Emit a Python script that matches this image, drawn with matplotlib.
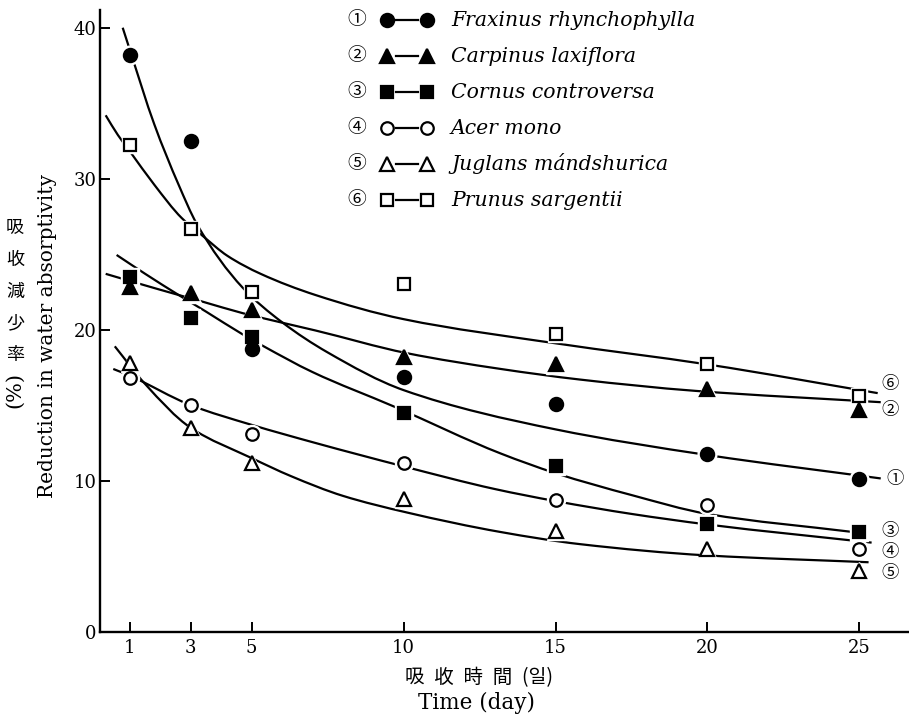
import numpy as np
import matplotlib
matplotlib.use('Agg')
import matplotlib.pyplot as plt
from matplotlib.path import Path
from matplotlib.patches import PathPatch
from matplotlib.lines import Line2D

plt.rcParams['font.family'] = ['DejaVu Serif', 'Noto Sans CJK KR']

# measured points
days = [1, 3, 5, 10, 15, 20, 25]
fraxinus = [38.2, 32.5, 18.7, 16.9, 15.1, 11.8, 10.1]
carpinus = [22.8, 22.4, 21.3, 18.2, 17.7, 16.1, 14.7]
cornus = [23.5, 20.8, 19.5, 14.5, 11.0, 7.1, 6.6]
acer = [16.8, 15.0, 13.1, 11.2, 8.7, 8.4, 5.5]
juglans = [17.8, 13.5, 11.2, 8.8, 6.7, 5.5, 4.0]
prunus = [32.2, 26.7, 22.5, 23.0, 19.7, 17.7, 15.6]

# hand drawn curves
frax_cx = [0.76, 1.0, 1.8, 2.6, 3.2, 4.7, 6.0, 7.5, 10.0, 15.0, 20.0, 25.7]
frax_cy = [40.0, 38.5, 33.6, 29.6, 27.0, 22.8, 20.5, 18.5, 16.0, 13.4, 11.7, 10.15]
carp_cx = [0.2, 1.3, 2.6, 3.4, 4.7, 5.3, 7.1, 10.1, 13.2, 15.8, 19.6, 25.7]
carp_cy = [23.7, 23.05, 22.3, 21.85, 21.1, 20.8, 19.95, 18.45, 17.4, 16.7, 15.95, 15.2]
corn_cx = [0.56, 1.5, 2.6, 3.5, 4.7, 5.4, 7.0, 9.7, 13.2, 15.0, 17.5, 20.0, 24.8]
corn_cy = [24.95, 23.7, 22.3, 21.2, 19.7, 18.9, 17.2, 14.9, 11.8, 10.5, 9.05, 7.8, 6.6]
acer_cx = [0.45, 1.0, 3.0, 5.0, 7.1, 10.0, 13.0, 15.0, 17.5, 20.0, 25.4]
acer_cy = [17.4, 16.95, 15.0, 13.7, 12.5, 10.95, 9.45, 8.65, 7.8, 7.1, 5.9]
jugl_cx = [0.5, 1.5, 3.0, 5.0, 6.3, 8.0, 10.1, 13.2, 15.8, 20.0, 25.3]
jugl_cy = [18.9, 16.4, 13.5, 11.5, 10.3, 9.0, 7.9, 6.6, 5.8, 5.05, 4.6]
prun_cx = [0.2, 0.6, 1.0, 1.8, 2.7, 3.4, 4.2, 5.3, 7.1, 10.0, 15.0, 20.0, 25.6]
prun_cy = [34.2, 32.9, 31.8, 29.6, 27.4, 26.2, 24.9, 23.7, 22.3, 20.7, 19.1, 17.7, 15.8]

species = ['Fraxinus rhynchophylla', 'Carpinus laxiflora', 'Cornus controversa',
           'Acer mono', 'Juglans mándshurica', 'Prunus sargentii']
numbers = ['①', '②', '③', '④', '⑤', '⑥']
x_ticks = [1, 3, 5, 10, 15, 20, 25]
y_ticks = [0, 10, 20, 30, 40]

series = [
    (fraxinus, frax_cx, frax_cy, 'o', 'black', 9.5),
    (carpinus, carp_cx, carp_cy, '^', 'black', 10),
    (cornus, corn_cx, corn_cy, 's', 'black', 8.5),
    (acer, acer_cx, acer_cy, 'o', 'white', 9),
    (juglans, jugl_cx, jugl_cy, '^', 'white', 9.5),
    (prunus, prun_cx, prun_cy, 's', 'white', 8),
]


def smooth_path(xs, ys):
    # cubic hermite through the read points, as bezier segments
    x = np.asarray(xs, float)
    y = np.asarray(ys, float)
    h = np.diff(x)
    d = np.diff(y) / h
    m = np.empty_like(x)
    m[0], m[-1] = d[0], d[-1]
    for i in range(1, len(x) - 1):
        if d[i - 1] * d[i] <= 0:
            m[i] = 0
        else:
            w1 = 2 * h[i] + h[i - 1]
            w2 = h[i] + 2 * h[i - 1]
            m[i] = (w1 + w2) / (w1 / d[i - 1] + w2 / d[i])
    verts = [(x[0], y[0])]
    codes = [Path.MOVETO]
    for i in range(len(x) - 1):
        verts += [(x[i] + h[i] / 3, y[i] + m[i] * h[i] / 3),
                  (x[i + 1] - h[i] / 3, y[i + 1] - m[i + 1] * h[i] / 3),
                  (x[i + 1], y[i + 1])]
        codes += [Path.CURVE4] * 3
    return Path(verts, codes)


W, H = 909, 718


def fpx(x, y):
    return x / W, 1 - y / H


fig = plt.figure(figsize=(W / 100, H / 100), dpi=100)
ax = fig.add_axes([99.6 / W, 1 - 631.7 / H, 809.4 / W, 622.1 / H])
ax.set_xlim(0, 26.63)
ax.set_ylim(0, 41.2)

for vals, cx, cy, mk, fc, ms in series:
    ax.add_patch(PathPatch(smooth_path(cx, cy), facecolor='none', edgecolor='black',
                           lw=1.6, zorder=2, capstyle='butt'))
    ax.plot(days, vals, ls='none', marker=mk, ms=ms + 4, mfc='white', mec='white',
            zorder=3, clip_on=False)
for vals, cx, cy, mk, fc, ms in series:
    ax.plot(days, vals, ls='none', marker=mk, ms=ms, mfc=fc, mec='black',
            mew=1.6, zorder=4, clip_on=False)

# curve numbers at the right end
end_label_y = [10.1, 14.65, 6.7, 5.3, 3.9, 16.4]
end_label_x = [26.17, 26.0, 26.0, 26.0, 26.0, 26.0]
for num, lx, ly in zip(numbers, end_label_x, end_label_y):
    ax.text(lx, ly, num, ha='center', va='center', fontsize=12.5,
            family=['Noto Sans CJK KR', 'DejaVu Sans'], clip_on=False)

ax.spines['top'].set_visible(False)
ax.spines['right'].set_visible(False)
ax.spines['left'].set_linewidth(1.7)
ax.spines['bottom'].set_linewidth(1.7)
ax.set_xticks(x_ticks)
ax.set_yticks(y_ticks)
ax.tick_params(direction='in', length=7, width=1.4, labelsize=13)
ax.tick_params(axis='x', pad=5)
ax.tick_params(axis='y', pad=2)

# legend block at the top
row_y = [20, 56, 92, 128, 164, 200]
for (vals, cx, cy, mk, fc, ms), num, name, ry in zip(series, numbers, species, row_y):
    fig.text(*fpx(357, ry), num, ha='center', va='center', fontsize=13.5,
             family=['Noto Sans CJK KR', 'DejaVu Sans'])
    x0, y0 = fpx(396, ry)
    x1, _ = fpx(418, ry)
    fig.add_artist(Line2D([x0, x1], [y0, y0], color='black', lw=1.6,
                          transform=fig.transFigure))
    for mx in (387, 427):
        px, py = fpx(mx, ry)
        fig.add_artist(Line2D([px], [py], ls='none', marker=mk, ms=ms, mfc=fc,
                              mec='black', mew=1.6, transform=fig.transFigure))
    fig.text(*fpx(451, ry), name, ha='left', va='center', fontsize=14.7, style='italic')

# axis titles
fig.text(*fpx(48, 336), 'Reduction in water absorptivity', rotation=90,
         ha='center', va='center', fontsize=14.5)
for i, ch in enumerate('吸收減少率'):
    fig.text(*fpx(15, 228 + 31.75 * i), ch, ha='center', va='center', fontsize=13,
             family=['Noto Sans CJK KR'])
fig.text(*fpx(15, 390), '(%)', rotation=90, ha='center', va='center', fontsize=15)
fig.text(*fpx(479, 678), '吸\u2002收\u2002時\u2002間\u2002(일)', ha='center',
         va='center', fontsize=14, family=['Noto Sans CJK KR', 'DejaVu Sans'])
fig.text(*fpx(476, 703), 'Time (day)', ha='center', va='center', fontsize=15.5)

fig.savefig('out.png', dpi=100)
